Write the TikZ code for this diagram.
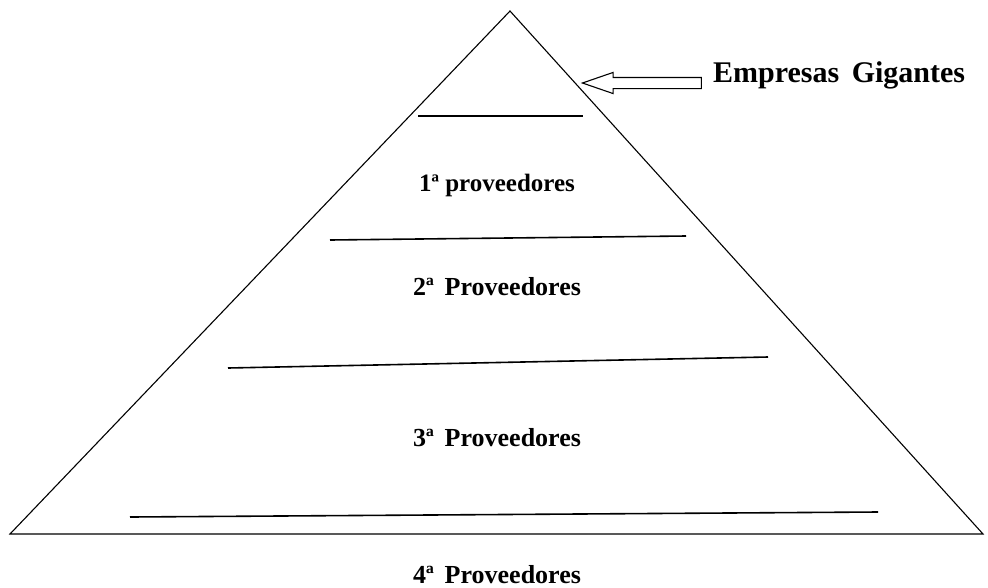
\documentclass[tikz,border=0pt]{standalone}
\usepackage{fontspec}
\setmainfont{Liberation Serif}
\usetikzlibrary{positioning, shapes.arrows}

\begin{document}
\begin{tikzpicture}[x=1pt, y=-1pt,
			edge/.style={line width=1.1pt, line join=miter},
			level/.style={line width=1.6pt},
			title/.style={fill=none, font=\bfseries\fontsize{26}{30}\selectfont, align=center, anchor=base, inner sep=2pt},
			smalltitle/.style={title, font=\bfseries\fontsize{25}{29}\selectfont},
			bigArrow/.style={draw, single arrow, shape border rotate=180, line width=1.1pt, minimum height=119pt, minimum width=20pt, inner sep=5pt, single arrow head extend=5pt, single arrow tip angle=38},
			]
			\useasboundingbox (0,0) rectangle (988,587);
			
			% pyramid
			\coordinate (apex) at (510,11);
			\coordinate (baseL) at (10,534);
			\coordinate (baseR) at (983,534);
			\draw [edge] (baseL) -- (apex) -- (baseR) -- cycle;
			
			% levels
			\draw [level] (418,116) -- (583,116);
			\draw [level] (330,240) -- (686,236);
			\draw [level] (228,368) -- (768,357);
			\draw [level] (130,517) -- (878,512);
			
			\draw node[smalltitle] (prov1) at (497,191) {1ª proveedores};
			\draw node[title] (prov2) at (497,295) {2ª\, Proveedores};
			\draw node[title] (prov3) at (497,446) {3ª\, Proveedores};
			\draw node[title] (prov4) at (497,583) {4ª\, Proveedores};
			
			\draw node[title, anchor=base west, font=\bfseries\fontsize{30}{34}\selectfont] (gigantes) at (711,82) {Empresas\, Gigantes};
			\draw node[bigArrow, yshift=-1pt, left=9pt of gigantes.base west] (arrowTop) {};
			
		\end{tikzpicture}
\end{document}
